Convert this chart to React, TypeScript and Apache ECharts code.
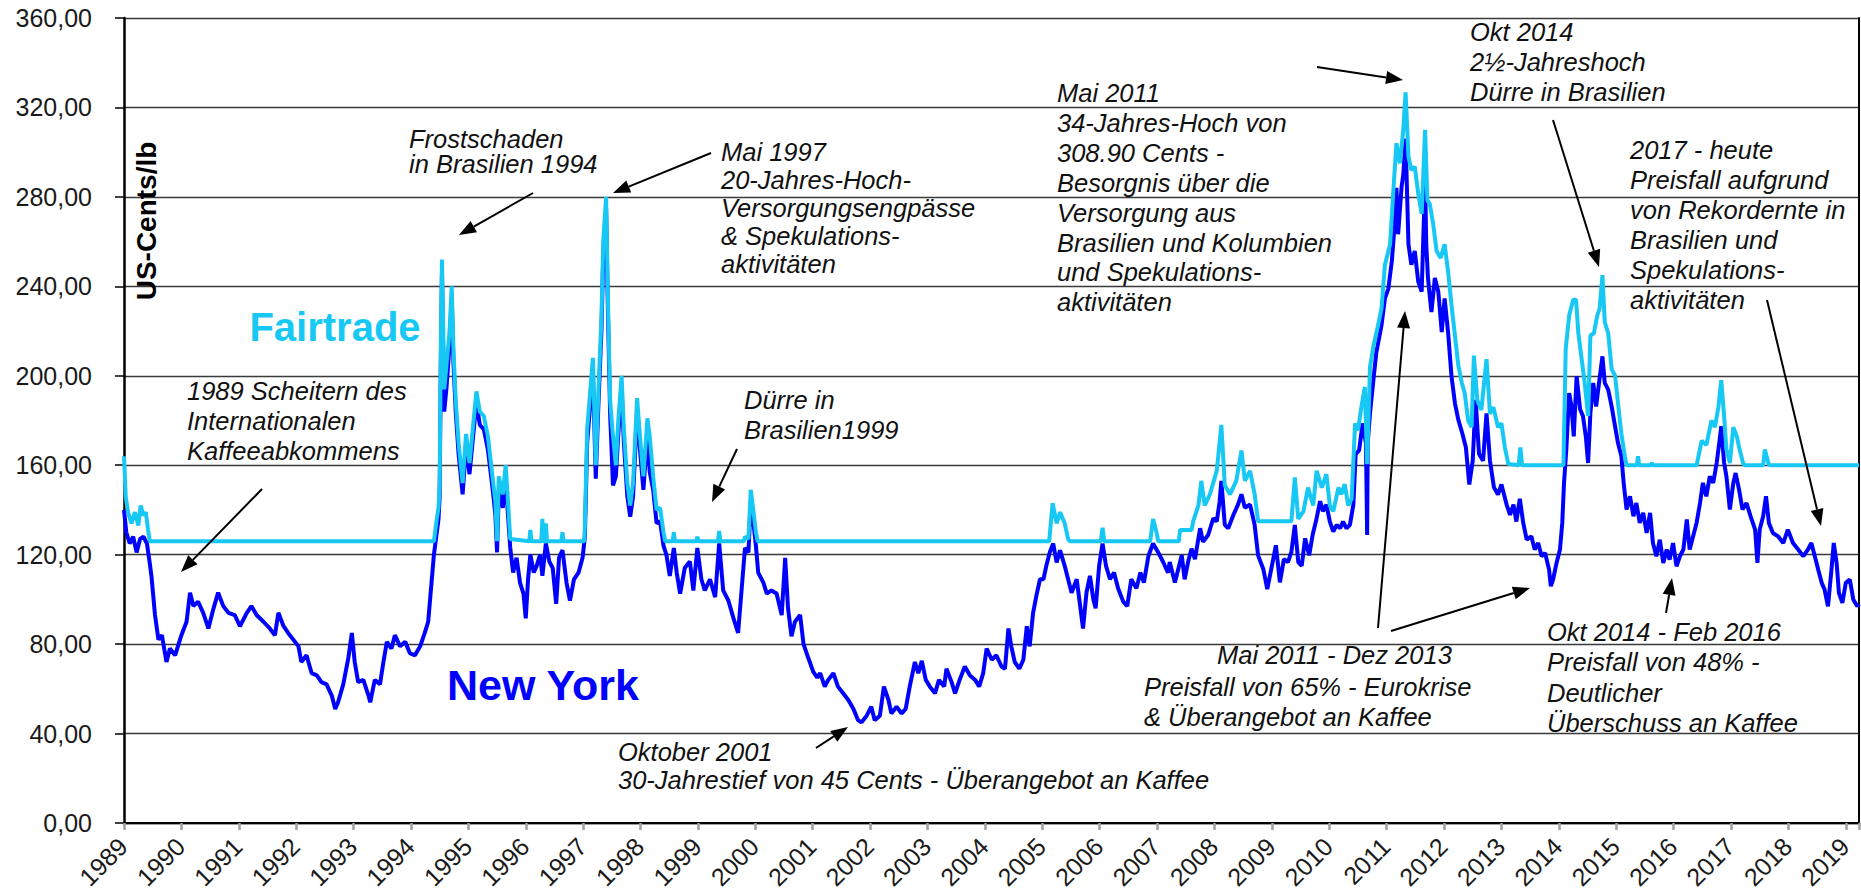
import React, { useEffect, useRef } from "react";
import * as echarts from "echarts";

// ---- Data (decimal year, US-cents/lb) ----
const yTickValues = [0, 40, 80, 120, 160, 200, 240, 280, 320, 360];
const xTickLabels = [
  "1989", "1990", "1991", "1992", "1993", "1994", "1995", "1996", "1997", "1998", "1999", "2000", "2001", "2002", "2003", "2004",
  "2005", "2006", "2007", "2008", "2009", "2010", "2011", "2012", "2013", "2014", "2015", "2016", "2017", "2018", "2019",
];
const xYearStart = 1989;
const xYearEnd = 2019.23;

const newYork1989to1994: [number, number][] = [
  [1989.0, 140], [1989.04, 130], [1989.1, 125], [1989.16, 128], [1989.22, 121], [1989.28, 127], [1989.34, 128], [1989.4, 125], [1989.45, 116],
  [1989.48, 110], [1989.54, 93], [1989.6, 82], [1989.66, 84], [1989.74, 72], [1989.8, 78], [1989.89, 75], [1990.0, 84], [1990.09, 90],
  [1990.15, 103], [1990.21, 97], [1990.29, 99], [1990.38, 94], [1990.47, 87], [1990.56, 96], [1990.64, 103], [1990.73, 97], [1990.82, 94],
  [1990.93, 93], [1991.02, 88], [1991.14, 94], [1991.22, 97], [1991.31, 93], [1991.43, 90], [1991.54, 87], [1991.63, 84], [1991.69, 94],
  [1991.78, 88], [1991.86, 85], [1991.95, 82], [1992.04, 79], [1992.09, 72], [1992.18, 75], [1992.27, 67], [1992.36, 66], [1992.44, 63],
  [1992.53, 62], [1992.62, 57], [1992.68, 51], [1992.73, 54], [1992.82, 62], [1992.91, 74], [1992.97, 85], [1993.02, 72], [1993.08, 63],
  [1993.17, 64], [1993.26, 57], [1993.29, 54], [1993.37, 64], [1993.46, 62], [1993.52, 72], [1993.58, 81], [1993.66, 78], [1993.72, 84],
  [1993.81, 79], [1993.9, 81], [1993.98, 76], [1994.07, 75], [1994.16, 79], [1994.24, 85], [1994.3, 90], [1994.36, 108],
];

const newYork1994to1998: [number, number][] = [
  [1994.4, 120], [1994.45, 130], [1994.48, 136], [1994.5, 146], [1994.52, 205], [1994.54, 246], [1994.56, 215], [1994.58, 184],
  [1994.62, 195], [1994.67, 213], [1994.71, 235], [1994.74, 206], [1994.78, 184], [1994.83, 165], [1994.9, 147], [1994.96, 169],
  [1995.02, 156], [1995.08, 172], [1995.14, 188], [1995.2, 178], [1995.27, 176], [1995.34, 167], [1995.42, 150], [1995.47, 138],
  [1995.5, 121], [1995.53, 149], [1995.6, 141], [1995.65, 154], [1995.69, 138], [1995.73, 123],
  [1995.78, 112], [1995.84, 118.6], [1995.9, 107.5], [1995.96, 102.6], [1996.0, 91.5], [1996.04, 109], [1996.08, 120], [1996.14, 112],
  [1996.19, 115], [1996.25, 120], [1996.29, 110.5], [1996.35, 125], [1996.41, 117], [1996.47, 114], [1996.53, 98], [1996.58, 118.6],
  [1996.64, 122], [1996.71, 107.5], [1996.77, 99.5], [1996.84, 109], [1996.92, 112], [1996.99, 118.6], [1997.03, 128], [1997.07, 170],
  [1997.12, 186], [1997.17, 202], [1997.22, 154], [1997.26, 183], [1997.32, 221], [1997.35, 254], [1997.4, 275], [1997.43, 231],
  [1997.47, 183], [1997.52, 151], [1997.57, 155], [1997.61, 173], [1997.67, 194], [1997.71, 170], [1997.77, 146], [1997.82, 137],
  [1997.87, 146], [1997.94, 184], [1997.99, 167], [1998.05, 149], [1998.12, 175], [1998.16, 157], [1998.22, 149], [1998.28, 134],
  [1998.34, 135], [1998.4, 124],
];

const newYork1998to2007: [number, number][] = [
  [1998.45, 120], [1998.51, 110.5], [1998.58, 123], [1998.63, 112], [1998.69, 102.6], [1998.77, 114], [1998.86, 117], [1998.92, 104],
  [1998.99, 123], [1999.06, 109], [1999.12, 104], [1999.21, 109], [1999.3, 101], [1999.37, 125], [1999.44, 104], [1999.53, 99.5],
  [1999.62, 91.5], [1999.7, 85], [1999.76, 104], [1999.82, 123], [1999.88, 121], [1999.92, 143], [1999.96, 136], [2000.01, 124],
  [2000.05, 112], [2000.14, 107.5], [2000.2, 102.6], [2000.28, 104], [2000.37, 102.6], [2000.46, 93], [2000.52, 118.6], [2000.57, 96],
  [2000.63, 83.5], [2000.69, 90], [2000.78, 93], [2000.84, 80], [2000.92, 74], [2001.01, 67.6], [2001.08, 65],
  [2001.13, 67], [2001.21, 61], [2001.27, 64], [2001.36, 67], [2001.44, 61], [2001.53, 58], [2001.62, 55], [2001.71, 51], [2001.79, 46],
  [2001.85, 45], [2001.94, 48], [2002.02, 52], [2002.08, 46], [2002.17, 48], [2002.24, 61], [2002.32, 55], [2002.37, 49], [2002.46, 52],
  [2002.55, 49], [2002.62, 51], [2002.69, 61], [2002.78, 72], [2002.84, 67], [2002.9, 72.5], [2002.97, 64], [2003.04, 61], [2003.13, 58],
  [2003.2, 64], [2003.29, 61], [2003.33, 69], [2003.42, 63], [2003.48, 58], [2003.56, 64], [2003.65, 70], [2003.74, 66], [2003.83, 64],
  [2003.9, 61], [2003.97, 67], [2004.03, 78], [2004.12, 73], [2004.2, 75], [2004.29, 70], [2004.35, 69], [2004.41, 87], [2004.46, 79],
  [2004.52, 72], [2004.6, 69], [2004.67, 73], [2004.73, 88], [2004.78, 79], [2004.84, 94], [2004.9, 102], [2004.96, 109], [2005.02, 109],
  [2005.07, 115], [2005.13, 121], [2005.19, 125], [2005.25, 116.5], [2005.31, 122], [2005.39, 115], [2005.45, 109], [2005.51, 103],
  [2005.6, 109], [2005.65, 99], [2005.71, 87], [2005.77, 103], [2005.83, 110.5], [2005.89, 100], [2005.93, 96], [2005.99, 115],
  [2006.05, 125], [2006.11, 115], [2006.18, 109], [2006.25, 112], [2006.32, 105], [2006.41, 99], [2006.48, 97], [2006.55, 109],
  [2006.64, 105], [2006.71, 112], [2006.77, 107.5], [2006.85, 119.5], [2006.93, 125], [2007.02, 121], [2007.11, 116.5], [2007.19, 112],
];

const newYork2007to2013: [number, number][] = [
  [2007.22, 116.7], [2007.31, 107.6], [2007.37, 113.6], [2007.43, 119.7], [2007.48, 109], [2007.54, 116.7], [2007.6, 122.7], [2007.66, 118],
  [2007.75, 131.8], [2007.8, 125.7], [2007.89, 128.8], [2007.98, 136.3], [2008.04, 134.8], [2008.09, 143.9], [2008.12, 153], [2008.18, 133.3],
  [2008.24, 131.8], [2008.33, 137.8], [2008.41, 142.4], [2008.47, 147], [2008.53, 141], [2008.62, 142.4], [2008.7, 133.3], [2008.76, 119.7],
  [2008.85, 113.6], [2008.92, 104.6], [2008.99, 113.6], [2009.07, 124.2], [2009.14, 107.6], [2009.21, 118], [2009.28, 116.7], [2009.34, 121.2],
  [2009.4, 133.3], [2009.46, 116.7], [2009.52, 115], [2009.58, 127.3], [2009.65, 119.7], [2009.71, 128.8], [2009.78, 136.3], [2009.84, 143.9],
  [2009.89, 139.4], [2009.95, 142.4], [2010.01, 134.8], [2010.07, 130.3], [2010.13, 133.3], [2010.19, 131.8], [2010.24, 134.8], [2010.3, 131.8],
  [2010.36, 133.3], [2010.42, 142.4], [2010.46, 165], [2010.52, 166.6], [2010.58, 178.7], [2010.64, 169.6], [2010.66, 128.8], [2010.67, 170],
  [2010.71, 183.2], [2010.77, 198.3], [2010.82, 210.4], [2010.91, 222.5], [2010.97, 234.6], [2011.03, 239], [2011.09, 251.2], [2011.14, 267.8],
  [2011.17, 284], [2011.2, 263.3], [2011.26, 284.5], [2011.29, 290], [2011.33, 306], [2011.38, 258.8], [2011.43, 249.7], [2011.49, 255.8],
  [2011.55, 242.1], [2011.61, 237.6], [2011.67, 288], [2011.69, 258.8], [2011.72, 243.7], [2011.78, 228.5], [2011.84, 243.7], [2011.9, 237.6],
  [2011.96, 219.5], [2012.01, 234.6], [2012.07, 219.5], [2012.13, 199.8], [2012.19, 187.7], [2012.25, 180.2], [2012.32, 174.1], [2012.38, 168],
  [2012.44, 151.4], [2012.5, 162], [2012.55, 189.2], [2012.61, 165], [2012.68, 162], [2012.74, 183.2], [2012.8, 162], [2012.87, 150],
  [2012.94, 146.9], [2013.0, 151.4], [2013.09, 142.4], [2013.15, 137.8], [2013.21, 142.4], [2013.26, 134.8],
];

const newYork2013to2019: [number, number][] = [
  [2013.32, 145], [2013.38, 134.2], [2013.44, 126.7], [2013.52, 128.2], [2013.58, 122.3], [2013.64, 125.2], [2013.7, 119.3], [2013.76, 120.8],
  [2013.83, 113.3], [2013.86, 105.9], [2013.9, 108.9], [2013.96, 116.3], [2014.02, 122.3], [2014.06, 134.2], [2014.09, 152], [2014.13, 167],
  [2014.18, 192.3], [2014.22, 186.3], [2014.26, 172.9], [2014.31, 199.8], [2014.37, 185], [2014.42, 182], [2014.47, 172.9], [2014.51, 161],
  [2014.55, 183.4], [2014.6, 196.8], [2014.65, 186.3], [2014.7, 196.8], [2014.76, 208.7], [2014.8, 196.8], [2014.86, 193.8], [2014.92, 186.3],
  [2014.98, 177.4], [2015.03, 170], [2015.09, 164], [2015.13, 152], [2015.18, 140.2], [2015.24, 146.1], [2015.3, 137.2], [2015.35, 143.1],
  [2015.41, 134.2], [2015.47, 138.7], [2015.53, 129.7], [2015.59, 138.7], [2015.64, 125.2], [2015.7, 119.3], [2015.76, 126.7], [2015.82, 116.3],
  [2015.88, 122.3], [2015.93, 117.8], [2015.99, 125.2], [2016.05, 114.8], [2016.11, 119.3], [2016.17, 122.3], [2016.23, 135.7], [2016.28, 122.3],
  [2016.34, 128.2], [2016.4, 134.2], [2016.46, 143.1], [2016.51, 152.1], [2016.57, 146.1], [2016.63, 155], [2016.69, 152.1], [2016.75, 161],
  [2016.81, 172.9], [2016.83, 177.4], [2016.88, 161], [2016.92, 155], [2016.98, 140.2], [2017.04, 152.1], [2017.08, 156.5], [2017.14, 149.1],
  [2017.2, 140.2], [2017.27, 143.1], [2017.34, 137.2], [2017.42, 131.2], [2017.46, 116.3], [2017.5, 131.2], [2017.56, 137.2], [2017.61, 146.1],
  [2017.66, 134.2], [2017.73, 129.7], [2017.82, 128.2], [2017.91, 125.2], [2017.99, 131.2], [2018.08, 125.2], [2018.17, 122.3], [2018.26, 119.3],
  [2018.34, 122.3], [2018.4, 125.2], [2018.46, 119.3], [2018.52, 113.3], [2018.58, 107.4], [2018.63, 104.4], [2018.69, 96.9], [2018.75, 113.3],
  [2018.79, 125.2], [2018.84, 116.3], [2018.88, 102.9], [2018.94, 98.4], [2019.0, 107.4], [2019.07, 108.9], [2019.13, 100], [2019.2, 96.9],
  [2019.23, 98],
];

const fairtrade1989to1998: [number, number][] = [
  [1989.0, 164], [1989.03, 146], [1989.07, 139], [1989.13, 134], [1989.19, 139], [1989.25, 133], [1989.29, 142], [1989.34, 137.5],
  [1989.38, 139], [1989.42, 131], [1989.45, 126], [1994.4, 126],
  [1994.45, 136], [1994.48, 141], [1994.5, 151], [1994.52, 215], [1994.54, 252], [1994.56, 225], [1994.58, 194], [1994.62, 205],
  [1994.67, 219], [1994.71, 240], [1994.74, 212], [1994.78, 189], [1994.83, 170], [1994.9, 152], [1994.96, 174], [1995.02, 161],
  [1995.08, 177], [1995.14, 193], [1995.2, 184], [1995.27, 182], [1995.34, 173], [1995.42, 155], [1995.47, 144], [1995.5, 126],
  [1995.53, 155], [1995.6, 147], [1995.65, 160], [1995.69, 144], [1995.73, 127], [1996.06, 126], [1996.08, 131], [1996.1, 126],
  [1996.27, 126], [1996.29, 136], [1996.31, 126], [1996.34, 126], [1996.35, 134], [1996.37, 126], [1996.62, 126], [1996.64, 130],
  [1996.66, 126], [1997.02, 126], [1997.03, 133], [1997.07, 176], [1997.12, 192], [1997.17, 208], [1997.22, 160], [1997.26, 189],
  [1997.32, 227], [1997.35, 260], [1997.4, 280], [1997.43, 237], [1997.47, 189], [1997.51, 176], [1997.57, 160], [1997.61, 179],
  [1997.67, 200], [1997.71, 176], [1997.77, 152], [1997.82, 142], [1997.87, 152], [1997.94, 190], [1997.99, 173], [1998.05, 155],
  [1998.12, 181], [1998.16, 173], [1998.22, 155], [1998.28, 140], [1998.34, 141], [1998.4, 130], [1998.43, 126],
];

const fairtrade1998to2007: [number, number][] = [
  [1998.56, 126], [1998.58, 130], [1998.6, 126], [1998.97, 126], [1998.99, 128], [1999.01, 126], [1999.35, 126], [1999.37, 130.6],
  [1999.39, 126], [1999.8, 126], [1999.82, 128], [1999.88, 127], [1999.92, 149], [1999.96, 141], [2000.01, 130], [2000.04, 126],
  [2005.12, 126], [2005.18, 143], [2005.25, 134], [2005.31, 139], [2005.39, 134], [2005.45, 127], [2005.48, 126], [2006.02, 126],
  [2006.05, 132], [2006.08, 126], [2006.88, 126], [2006.93, 136], [2006.99, 130], [2007.02, 126], [2007.38, 126],
];

const fairtrade2007to2013: [number, number][] = [
  [2007.4, 131], [2007.6, 131], [2007.63, 135], [2007.72, 142], [2007.77, 153], [2007.83, 142], [2007.92, 147], [2008.04, 157.5],
  [2008.12, 178], [2008.18, 151], [2008.27, 147], [2008.38, 153], [2008.47, 166.6], [2008.53, 153], [2008.62, 157.5], [2008.7, 147],
  [2008.76, 135], [2009.34, 135], [2009.4, 154.5], [2009.46, 136], [2009.55, 139.4], [2009.63, 150], [2009.72, 142], [2009.78, 157.5],
  [2009.87, 150], [2009.95, 156], [2010.01, 142], [2010.07, 139.4], [2010.16, 150], [2010.21, 147], [2010.27, 151.5], [2010.33, 142],
  [2010.39, 145], [2010.45, 178.7], [2010.5, 175.6], [2010.56, 186], [2010.62, 195], [2010.66, 160.5], [2010.71, 204], [2010.77, 213.4],
  [2010.85, 222.5], [2010.91, 230], [2010.97, 249.7], [2011.06, 258.8], [2011.11, 280], [2011.17, 304], [2011.23, 295], [2011.29, 310],
  [2011.33, 326.8], [2011.38, 298], [2011.43, 292], [2011.49, 293.5], [2011.55, 281.5], [2011.61, 272.4], [2011.67, 310], [2011.71, 278.4],
  [2011.75, 277], [2011.81, 268], [2011.87, 255.8], [2011.94, 252.7], [2012.01, 258.8], [2012.07, 246.7], [2012.13, 231.6], [2012.19, 218],
  [2012.25, 204.4], [2012.31, 196.8], [2012.36, 192.3], [2012.42, 180], [2012.48, 177], [2012.52, 209], [2012.58, 189], [2012.65, 184.7],
  [2012.74, 207.4], [2012.8, 183], [2012.86, 186], [2012.94, 177], [2013.0, 178.7], [2013.06, 168], [2013.12, 160.5],
];

const fairtrade2013to2019: [number, number][] = [
  [2013.3, 160], [2013.33, 168], [2013.36, 160], [2014.08, 160], [2014.12, 212], [2014.18, 227], [2014.25, 234], [2014.3, 234],
  [2014.34, 219], [2014.4, 207], [2014.45, 197], [2014.51, 182], [2014.55, 218], [2014.61, 219], [2014.67, 227], [2014.71, 230],
  [2014.76, 245], [2014.8, 224], [2014.86, 219], [2014.92, 203], [2014.98, 200], [2015.03, 188], [2015.09, 174], [2015.15, 164],
  [2015.18, 160], [2015.36, 160], [2015.38, 164], [2015.4, 160], [2015.6, 160], [2015.62, 161], [2015.64, 160], [2016.4, 160],
  [2016.49, 171], [2016.57, 169], [2016.66, 180], [2016.72, 177], [2016.78, 186], [2016.83, 198], [2016.88, 182], [2016.92, 167],
  [2016.98, 161], [2017.04, 177], [2017.1, 173], [2017.15, 167], [2017.21, 161], [2017.24, 160], [2017.56, 160], [2017.59, 167],
  [2017.65, 161], [2017.67, 160], [2019.23, 160],
];

const newYorkData = [
  ...newYork1989to1994, ...newYork1994to1998, ...newYork1998to2007, ...newYork2007to2013, ...newYork2013to2019,
];
const fairtradeData = [
  ...fairtrade1989to1998, ...fairtrade1998to2007, ...fairtrade2007to2013, ...fairtrade2013to2019,
];

// ---- Annotations (text lines, placed in pixels) ----
type Note = { lines: string[]; x: number; y: number; lh: number };
const notes: Note[] = [
  { lines: ["1989 Scheitern des", "Internationalen", "Kaffeeabkommens"], x: 187, y: 391, lh: 30 },
  { lines: ["Frostschaden", "in Brasilien 1994"], x: 409, y: 139, lh: 25 },
  { lines: ["Mai 1997", "20-Jahres-Hoch-", "Versorgungsengpässe", "& Spekulations-", "aktivitäten"], x: 721, y: 152, lh: 28 },
  { lines: ["Dürre in", "Brasilien1999"], x: 744, y: 400, lh: 30 },
  { lines: ["Oktober 2001", "30-Jahrestief von 45 Cents - Überangebot an Kaffee"], x: 618, y: 752, lh: 28 },
  {
    lines: ["Mai 2011", "34-Jahres-Hoch von", "308.90 Cents -", "Besorgnis über die", "Versorgung aus", "Brasilien und Kolumbien", "und Spekulations-", "aktivitäten"],
    x: 1057, y: 93, lh: 29.9,
  },
  { lines: ["Okt 2014", "2½-Jahreshoch", "Dürre in Brasilien"], x: 1470, y: 32, lh: 30 },
  { lines: ["2017 - heute", "Preisfall aufgrund", "von Rekordernte in", "Brasilien und", "Spekulations-", "aktivitäten"], x: 1630, y: 150, lh: 30 },
  { lines: ["Mai 2011 - Dez 2013"], x: 1217, y: 655, lh: 30 },
  { lines: ["Preisfall von 65% - Eurokrise", "& Überangebot an Kaffee"], x: 1144, y: 686.5, lh: 30.5 },
  { lines: ["Okt 2014 - Feb 2016", "Preisfall von 48% -", "Deutlicher", "Überschuss an Kaffee"], x: 1547, y: 632, lh: 30.3 },
];

const arrows: [number, number, number, number][] = [
  [262, 489, 181, 572],
  [533, 193, 459, 235],
  [711, 153, 613, 193],
  [737, 449, 712, 502],
  [816, 748, 848, 727],
  [1317, 67, 1403, 80],
  [1378, 628, 1405, 311],
  [1391, 631, 1530, 588],
  [1553, 120, 1599, 267],
  [1767, 300, 1821, 526],
  [1666, 613, 1672, 578],
];

const FONT = '"Liberation Sans", Arial, Helvetica, sans-serif';
const BLUE = "#0000ff";
const CYAN = "#17c8f5";

function buildGraphic(xLabelEls: any[]) {
  const els: any[] = [];
  notes.forEach((n) => {
    n.lines.forEach((line, i) => {
      els.push({
        type: "text",
        x: n.x,
        y: n.y + i * n.lh,
        z: 100,
        style: {
          text: line,
          fill: "#111",
          fontSize: 25.5,
          fontStyle: "italic",
          fontFamily: FONT,
          align: "left",
          verticalAlign: "middle",
        },
      });
    });
  });
  arrows.forEach(([x1, y1, x2, y2]) => {
    const a = Math.atan2(y2 - y1, x2 - x1);
    const L = 17;
    const W = 6.5;
    const bx = x2 - L * Math.cos(a);
    const by = y2 - L * Math.sin(a);
    els.push({
      type: "line",
      z: 100,
      shape: { x1, y1, x2: bx, y2: by },
      style: { stroke: "#000", lineWidth: 2 },
    });
    els.push({
      type: "polygon",
      z: 100,
      shape: {
        points: [
          [x2, y2],
          [bx + W * Math.sin(a), by - W * Math.cos(a)],
          [bx - W * Math.sin(a), by + W * Math.cos(a)],
        ],
      },
      style: { fill: "#000" },
    });
  });
  els.push({
    type: "text",
    x: 146,
    y: 221,
    rotation: Math.PI / 2,
    z: 100,
    style: {
      text: "US-Cents/lb",
      fill: "#000",
      fontSize: 28,
      fontWeight: "bold",
      fontFamily: FONT,
      align: "center",
      verticalAlign: "middle",
    },
  });
  els.push({
    type: "text",
    x: 335,
    y: 327,
    z: 100,
    style: { text: "Fairtrade", fill: CYAN, fontSize: 40, fontWeight: "bold", fontFamily: FONT, align: "center", verticalAlign: "middle" },
  });
  els.push({
    type: "text",
    x: 543,
    y: 685,
    z: 100,
    style: { text: "New York", fill: BLUE, fontSize: 43, fontWeight: "bold", fontFamily: FONT, align: "center", verticalAlign: "middle" },
  });
  return els.concat(xLabelEls);
}

export default function App() {
  const ref = useRef<HTMLDivElement>(null);
  useEffect(() => {
    if (!ref.current) return;
    const chart = echarts.init(ref.current, null, { renderer: "svg" });
    chart.setOption({
      animation: false,
      backgroundColor: "#ffffff",
      textStyle: { fontFamily: FONT },
      grid: { left: 124, right: 2, top: 18, bottom: 72, containLabel: false },
      xAxis: [
        {
          type: "value",
          min: xYearStart,
          max: xYearEnd,
          interval: 1,
          axisLine: { show: true, lineStyle: { color: "#a0a0a0", width: 3 } },
          axisTick: { show: true, length: 7, lineStyle: { color: "#a0a0a0", width: 2.5 } },
          axisLabel: { show: false },
          splitLine: { show: false },
        },
        {
          type: "value",
          position: "top",
          min: xYearStart,
          max: xYearEnd,
          axisLine: { show: true, lineStyle: { color: "#000", width: 2 } },
          axisTick: { show: false },
          axisLabel: { show: false },
          splitLine: { show: false },
        },
      ],
      yAxis: [
        {
          type: "value",
          min: yTickValues[0],
          max: yTickValues[yTickValues.length - 1],
          interval: 40,
          axisLine: { show: true, lineStyle: { color: "#000", width: 2.5 } },
          axisTick: { show: true, length: 9, lineStyle: { color: "#000", width: 1.5 } },
          axisLabel: {
            margin: 32,
            fontSize: 25,
            color: "#1a1a1a",
            fontFamily: FONT,
            formatter: (v: number) => v.toFixed(2).replace(".", ","),
          },
          splitLine: { show: true, lineStyle: { color: "#3a3a3a", width: 1.3 } },
        },
        {
          type: "value",
          position: "right",
          min: 0,
          max: 360,
          axisLine: { show: true, lineStyle: { color: "#000", width: 2 } },
          axisTick: { show: false },
          axisLabel: { show: false },
          splitLine: { show: false },
        },
      ],
      series: [
        {
          name: "New York",
          type: "line",
          data: newYorkData,
          showSymbol: false,
          symbol: "none",
          lineStyle: { color: BLUE, width: 4 },
          itemStyle: { color: BLUE },
          z: 2,
        },
        {
          name: "Fairtrade",
          type: "line",
          data: fairtradeData,
          showSymbol: false,
          symbol: "none",
          lineStyle: { color: CYAN, width: 4 },
          itemStyle: { color: CYAN },
          z: 3,
        },
      ],
    });

    // Year labels, rotated 45°, positioned through the x axis scale.
    const axisY = chart.convertToPixel({ yAxisIndex: 0 }, 0) as number;
    const xLabelEls = xTickLabels.map((label) => {
      const px = chart.convertToPixel({ xAxisIndex: 0 }, Number(label)) as number;
      return {
        type: "text",
        x: px - 1,
        y: axisY + 19,
        rotation: Math.PI / 4,
        z: 100,
        style: {
          text: label,
          fill: "#1a1a1a",
          fontSize: 25,
          fontFamily: FONT,
          align: "right",
          verticalAlign: "middle",
        },
      };
    });
    chart.setOption({ graphic: buildGraphic(xLabelEls) });
    return () => chart.dispose();
  }, []);
  return (
    <div
      ref={ref}
      style={{ position: "absolute", left: 0, top: 0, width: 1861, height: 895, background: "#fff" }}
    />
  );
}
